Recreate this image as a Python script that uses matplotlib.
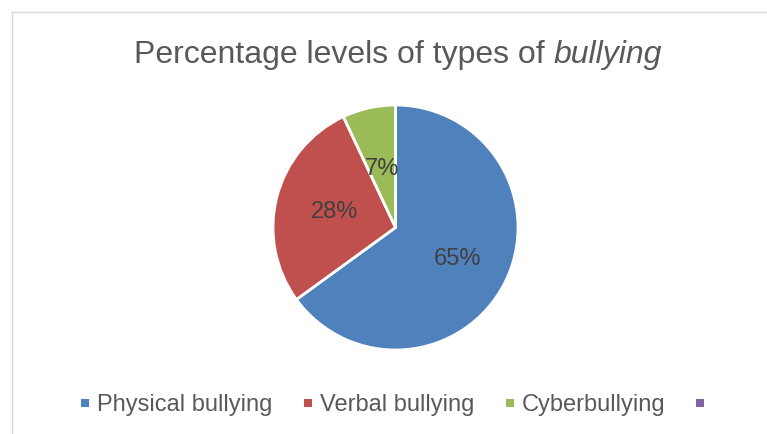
import matplotlib
matplotlib.use("Agg")
import matplotlib.pyplot as plt
from matplotlib.lines import Line2D
import numpy as np

categories = ["Physical bullying", "Verbal bullying", "Cyberbullying", ""]
values = [65, 28, 7]
colors = ["#4F81BD", "#C0504D", "#9BBB59", "#8064A2"]
label_dist = [0.57, 0.51, 0.49]

W, H = 767, 434
DPI = 100
plt.rcParams['font.family'] = ['Liberation Sans', 'DejaVu Sans']
fig = plt.figure(figsize=(W / DPI, H / DPI), dpi=DPI)

# border
fig.add_artist(Line2D([11.5 / W, 11.5 / W], [0, 1 - 11.5 / H], color="#D9D9D9", lw=1.0, transform=fig.transFigure))
fig.add_artist(Line2D([11.5 / W, 1], [1 - 11.5 / H, 1 - 11.5 / H], color="#D9D9D9", lw=1.0, transform=fig.transFigure))

# pie axes
cx, cy, r = 395.5, 227.5, 122.5
ax = fig.add_axes([(cx - r) / W, (H - cy - r) / H, 2 * r / W, 2 * r / H])
wedges, texts = ax.pie(values, colors=colors[:3], startangle=90, counterclock=False,
                       wedgeprops=dict(edgecolor="white", linewidth=2.0))
ax.set_xlim(-1, 1)
ax.set_ylim(-1, 1)
ax.set_aspect("equal")
for w, v, d in zip(wedges, values, label_dist):
    ang = np.deg2rad((w.theta1 + w.theta2) / 2)
    ax.text(d * np.cos(ang), d * np.sin(ang), f"{v}%", ha="center", va="center",
            fontsize=17, color="#404040")

# title with italic part
fig.canvas.draw()
renderer = fig.canvas.get_renderer()
ty = (H - 63) / H
t1 = fig.text(0, ty, "Percentage levels of types of ", fontsize=23, color="#595959", va="baseline", ha="left")
t2 = fig.text(0, ty, "bullying", fontsize=23, color="#595959", va="baseline", ha="left", style="italic")
w1 = t1.get_window_extent(renderer).width
w2 = t2.get_window_extent(renderer).width
x0 = 397.5 - (w1 + w2) / 2
t1.set_x(x0 / W)
t2.set_x((x0 + w1) / W)

# legend
handles = [Line2D([], [], marker="s", linestyle="none", markersize=5.5, color=c, markeredgewidth=0) for c in colors]
leg = fig.legend(handles, categories, loc="center", bbox_to_anchor=(396.5 / W, (H - 405) / H),
                 ncol=4, frameon=False, fontsize=17, handlelength=0.4, handletextpad=0.3,
                 columnspacing=1.3, borderpad=0, borderaxespad=0)
for t in leg.get_texts():
    t.set_color("#595959")

fig.savefig("out.png", dpi=DPI)
